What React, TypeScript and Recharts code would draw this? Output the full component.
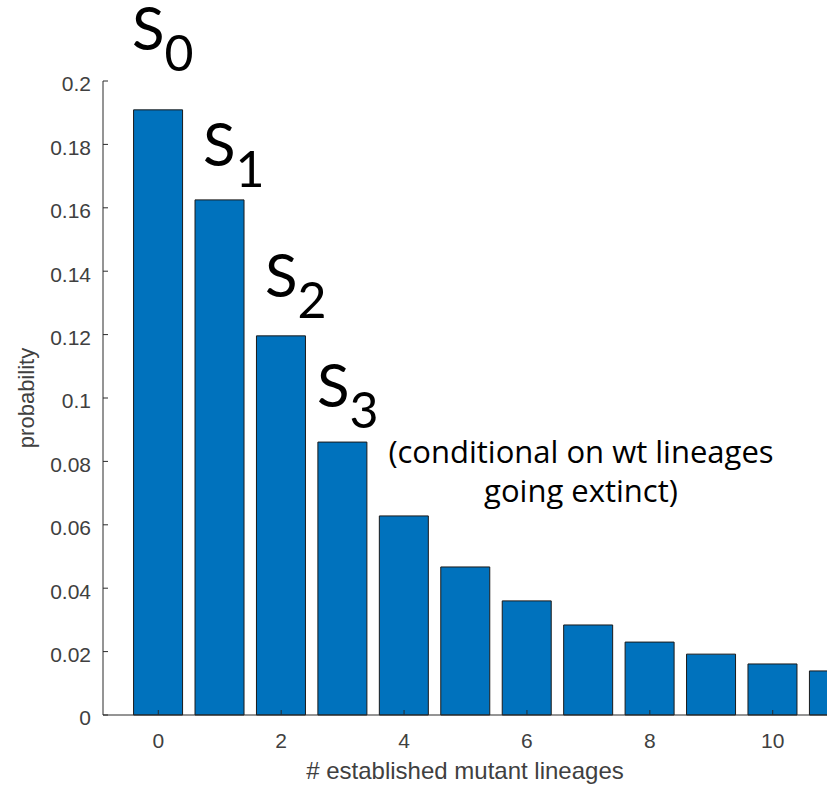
import React from 'react';
import { BarChart, Bar, XAxis, YAxis, Customized } from 'recharts';

const lineages = [0, 1, 2, 3, 4, 5, 6, 7, 8, 9, 10, 11];
const probability = [0.1909, 0.1625, 0.1196, 0.0861, 0.0628, 0.0467, 0.036, 0.0284, 0.023, 0.0192, 0.0161, 0.0139];
const xTicks = [0, 2, 4, 6, 8, 10];
const yTicks = [0, 0.02, 0.04, 0.06, 0.08, 0.1, 0.12, 0.14, 0.16, 0.18, 0.2];
const xLabel = '# established mutant lineages';
const yLabel = 'probability';
const subscripts = ['0', '1', '2', '3'];
const noteLines = ['(conditional on wt lineages', 'going extinct)'];

const data = lineages.map((n, i) => ({ n, p: probability[i] }));

const AXIS = '#2b2b2b';
const TICK_TEXT = '#404040';
const SANS = '"Liberation Sans", Arial, sans-serif';
const NOTE_FONT = '"Open Sans", sans-serif';
const S_FONT = 'Lato, "Open Sans", sans-serif';

const fmt = (v: number) => String(Number(v.toFixed(2)));

const XTickBottom = (props: any) => {
  const { x, y, payload } = props;
  const axisY = y - 18;
  return (
    <g>
      <line x1={x} x2={x} y1={axisY} y2={axisY - 5} stroke={AXIS} strokeWidth={1} />
      <text x={x} y={y} dy="0.71em" textAnchor="middle" fill={TICK_TEXT} fontSize={21} fontFamily={SANS}>
        {payload.value}
      </text>
    </g>
  );
};

const XTickTop = (props: any) => {
  const { x, y } = props;
  return <line x1={x} x2={x} y1={y} y2={y + 5} stroke={AXIS} strokeWidth={1} />;
};

const YTickLeft = (props: any) => {
  const { x, y, payload } = props;
  const axisX = x + 12;
  return (
    <g>
      <line x1={axisX} x2={axisX + 5} y1={y} y2={y} stroke={AXIS} strokeWidth={1} />
      <text x={x} y={y + 3} dy="0.355em" textAnchor="end" fill={TICK_TEXT} fontSize={21} fontFamily={SANS}>
        {fmt(payload.value)}
      </text>
    </g>
  );
};

const YTickRight = (props: any) => {
  const { x, y } = props;
  return <line x1={x} x2={x - 5} y1={y} y2={y} stroke={AXIS} strokeWidth={1} />;
};

const sPositions = [
  { x: 132, y: 50 },
  { x: 203, y: 166 },
  { x: 265, y: 297 },
  { x: 317, y: 407 },
];

const Annotations = () => (
  <g>
    <text x={465} y={779} textAnchor="middle" fill={TICK_TEXT} fontSize={24} fontFamily={SANS}>
      {xLabel}
    </text>
    <text
      x={34}
      y={398}
      textAnchor="middle"
      fill={TICK_TEXT}
      fontSize={22}
      fontFamily={SANS}
      transform="rotate(-90 34 398)"
    >
      {yLabel}
    </text>
    {subscripts.map((s, i) => (
      <text key={s} x={sPositions[i].x} y={sPositions[i].y} fill="#000" fontFamily={S_FONT} fontSize={60}>
        <tspan>S</tspan>
        <tspan dy={21} fontSize={50}>
          {s}
        </tspan>
      </text>
    ))}
    {noteLines.map((t, i) => (
      <text key={t} x={581} y={463 + i * 39} textAnchor="middle" fill="#000" fontFamily={NOTE_FONT} fontSize={31}>
        {t}
      </text>
    ))}
  </g>
);

export default function App() {
  return (
    <div
      style={{
        position: 'absolute',
        left: 0,
        top: 0,
        width: 827,
        height: 788,
        overflow: 'hidden',
        background: '#fff',
      }}
    >
      <BarChart width={840} height={788} data={data} margin={{ top: 81, right: 12, bottom: 0, left: 0 }}>
        <Bar
          dataKey="p"
          fill="#0072BD"
          stroke="#1a1a1a"
          strokeWidth={1}
          barSize={49}
          isAnimationActive={false}
        />
        <XAxis
          dataKey="n"
          type="number"
          domain={[-0.9, 10.9]}
          allowDataOverflow
          ticks={xTicks}
          height={73}
          tickSize={0}
          tickMargin={18}
          tickLine={false}
          axisLine={{ stroke: AXIS, strokeWidth: 1 }}
          tick={<XTickBottom />}
          interval={0}
        />
        <XAxis
          xAxisId="top"
          orientation="top"
          dataKey="n"
          type="number"
          domain={[-0.9, 10.9]}
          allowDataOverflow
          ticks={xTicks}
          height={0}
          tickSize={0}
          tickMargin={0}
          tickLine={false}
          axisLine={{ stroke: AXIS, strokeWidth: 1 }}
          tick={<XTickTop />}
          interval={0}
        />
        <YAxis
          type="number"
          domain={[0, 0.2]}
          ticks={yTicks}
          width={103}
          tickSize={0}
          tickMargin={12}
          tickLine={false}
          axisLine={{ stroke: AXIS, strokeWidth: 1 }}
          tick={<YTickLeft />}
          interval={0}
        />
        <YAxis
          yAxisId="right"
          orientation="right"
          type="number"
          domain={[0, 0.2]}
          ticks={yTicks}
          width={0}
          tickSize={0}
          tickMargin={0}
          tickLine={false}
          axisLine={{ stroke: AXIS, strokeWidth: 1 }}
          tick={<YTickRight />}
          interval={0}
        />
        <Customized component={Annotations} />
      </BarChart>
    </div>
  );
}
